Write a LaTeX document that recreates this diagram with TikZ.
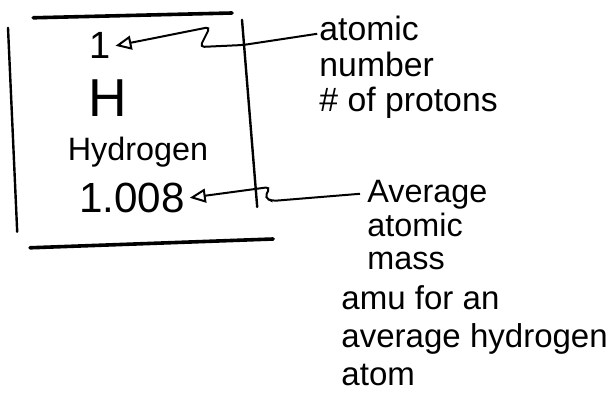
\documentclass[tikz,border=0pt]{standalone}
\usepackage{fontspec}
\setmainfont{Liberation Sans}
\usetikzlibrary{arrows.meta}

\tikzstyle{handline} = [line width=0.9mm, line cap=round]
\tikzstyle{sideline} = [line width=0.6mm, line cap=round]
\tikzstyle{arrow} = [line width=0.5mm, -{Triangle[open, length=4mm, width=3.5mm]}, rounded corners=3pt]
\tikzstyle{note} = [anchor=north west, align=left, inner sep=0pt]

\begin{document}
\begin{tikzpicture}
		\useasboundingbox (0, 0) rectangle (15.3, 10.025);
		% Box
		\draw [handline] (0.83, 9.58) -- (5.8, 9.7);
		\draw [sideline] (0.2, 9.33) -- (0.43, 4.23);
		\draw [sideline] (6.05, 9.53) -- (6.43, 4.85);
		\draw [handline] (0.75, 3.83) -- (6.83, 4.05);
		% Element
		\node (number) [font=\fontsize{27}{27}\selectfont] at (2.5, 8.88) {1};
		\node (symbol) [font=\fontsize{38}{38}\selectfont] at (2.7, 7.58) {H};
		\node (name) [font=\fontsize{23}{23}\selectfont] at (3.45, 6.22) {Hydrogen};
		\node (mass) [font=\fontsize{30}{30}\selectfont] at (3.3, 5.08) {1.008};
		% Notes
		\node (numnote) [note, font=\fontsize{24}{25}\selectfont] at (7.98, 9.62) {atomic\\number\\\# of protons};
		\node (massnote) [note, font=\fontsize{23}{24}\selectfont] at (9.18, 5.53) {Average\\atomic\\mass};
		\node (amunote) [note, font=\fontsize{23.5}{27}\selectfont] at (8.53, 2.88) {amu for an\\average hydrogen\\atom};
		% Arrows
		\draw [arrow] ([shift={(-0.05,-0.44)}]numnote.north west) -- (6.08, 8.9) -- (5.0, 8.85) -- (5.25, 9.35) -- (number.east);
		\draw [arrow] ([shift={(-0.18,-0.35)}]massnote.north west) -- (6.8, 5.0) -- (6.62, 5.08) -- (6.75, 5.35) -- (mass.east);
	\end{tikzpicture}
\end{document}
